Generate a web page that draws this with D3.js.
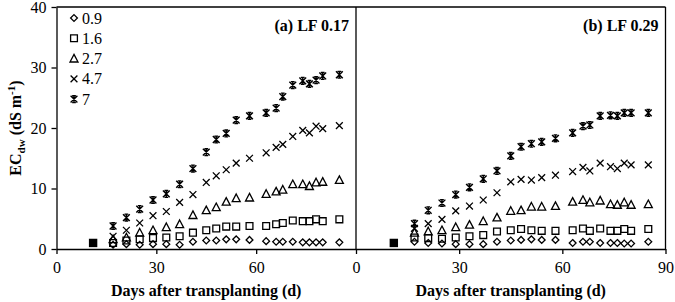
<!DOCTYPE html>
<html><head><meta charset="utf-8">
<script src="https://cdn.jsdelivr.net/npm/d3@7"></script>
<style>
body{margin:0;background:#fff;}
text{font-family:"Liberation Serif","Times New Roman",serif;fill:#000;}
</style></head>
<body><svg id="c" width="675" height="302"></svg>
<script>
// ---- data ----
const days = [17,21,25,29,33,37,41,45,48,51,54,58,63,66,68,71,74,76,78,80,85];
const initialDay = 11, initialEC = 1.0;
const seriesNames = ["0.9","1.6","2.7","4.7","7"];
const markers = ["diamond","square","triangle","cross","star"];
// Panel (a) LF 0.17
const a_09 = [0.7,0.8,0.7,0.8,0.8,0.7,1.2,1.4,1.4,1.6,1.6,1.5,1.3,1.2,1.2,1.2,1.1,1.1,1.1,1.1,1.1];
const a_16 = [1.0,1.4,1.6,1.8,1.9,2.1,2.7,3.1,3.4,3.7,3.7,3.8,3.8,4.1,4.3,4.7,4.6,4.6,4.9,4.6,4.9];
const a_27 = [1.6,1.9,2.7,3.1,3.6,4.1,5.6,6.4,6.9,7.8,8.4,8.5,9.1,9.5,9.8,10.7,10.7,10.4,11.0,11.1,11.4];
const a_47 = [2.1,3.1,4.3,5.5,6.2,7.7,9.0,11.0,12.1,13.1,14.2,15.0,15.9,16.8,17.3,18.6,19.6,19.2,20.3,19.9,20.4];
const a_7  = [3.8,5.2,6.6,8.1,9.1,10.7,13.3,16.0,18.1,19.1,21.3,22.0,22.5,23.3,25.2,27.1,27.8,27.3,27.9,28.6,28.8];
// Panel (b) LF 0.29
const b_09 = [1.2,1.0,0.9,0.8,0.8,0.8,1.2,1.4,1.5,1.6,1.5,1.5,1.0,1.2,1.2,1.0,1.0,1.0,0.9,0.9,1.2];
const b_16 = [1.9,1.8,1.7,1.9,2.1,2.3,2.9,3.1,3.3,3.1,3.0,3.0,3.1,3.4,3.0,3.4,3.0,3.0,3.3,3.0,3.3];
const b_27 = [2.7,2.9,3.1,3.6,4.0,4.6,5.2,6.3,6.4,7.0,7.0,7.1,7.8,8.1,7.7,8.0,7.4,7.3,7.7,7.3,7.4];
const b_47 = [3.4,4.2,4.9,6.3,7.1,8.1,9.3,11.1,11.5,11.4,11.8,12.2,12.8,13.5,12.9,14.2,13.6,13.3,14.2,13.9,13.9];
const b_7  = [4.2,6.4,7.6,9.0,10.2,11.6,12.9,15.4,16.9,17.4,17.7,18.3,19.2,20.3,20.5,22.0,22.1,22.0,22.5,22.5,22.5];
const xTicksA = [0,30,60];
const xTicksB = [0,30,60,90];
const yTicks = [0,10,20,30,40];
const panelLabels = ["(a) LF 0.17","(b) LF 0.29"];

// ---- drawing ----
const svg = d3.select("#c");
const y = d3.scaleLinear().domain([0,40]).range([249,7]);
const xa = d3.scaleLinear().domain([0,90]).range([56.5,356]);
const xb = d3.scaleLinear().domain([0,90]).range([356,665.5]);
const SW = 1.3;

function markerPath(type){
  const s = 3.4;
  switch(type){
    case "diamond": return `M0,${-s}L${s},0L0,${s}L${-s},0Z`;
    case "square": return `M${-s},${-s}H${s}V${s}H${-s}Z`;
    case "triangle": return `M0,${-s-0.8}L${s+0.6},${s}L${-s-0.6},${s}Z`;
    case "cross": return `M${-s},${-s}L${s},${s}M${-s},${s}L${s},${-s}`;
    case "star": { const h = s*0.55;
      return `M${-s},${-s}L${s},${s}M${-s},${s}L${s},${-s}M0,${-s}V${s}M${-h},${-s}H${h}M${-h},${s}H${h}`; }
  }
}
function drawMarker(g, type, px, py){
  g.append("path").attr("d", markerPath(type))
    .attr("transform", `translate(${px},${py})`)
    .attr("fill", "none").attr("stroke", "#000")
    .attr("stroke-width", type==="star"?1.4:SW);
}

function panel(x, data, ticks, label, withY){
  const g = svg.append("g");
  const ax = g.append("g").attr("transform", `translate(0,${y(0)})`)
    .call(d3.axisBottom(x).tickValues(ticks).tickSize(5).tickSizeOuter(0).tickFormat(d3.format("d")));
  ax.select(".domain").attr("stroke-width", SW);
  ax.selectAll(".tick line").attr("stroke-width", SW);
  ax.selectAll(".tick text").attr("y", 13).style("font-size","16px").style("font-family","Liberation Serif");
  if(withY){
    const ay = g.append("g").attr("transform", `translate(${x(0)},0)`)
      .call(d3.axisLeft(y).tickValues(yTicks).tickSize(5).tickSizeOuter(0));
    ay.select(".domain").attr("stroke-width", SW);
    ay.selectAll(".tick line").attr("stroke-width", SW);
    ay.selectAll(".tick text").attr("x", -10).style("font-size","16px").style("font-family","Liberation Serif");
  }
  g.append("text").attr("x", (x(0)+x(90))/2).attr("y", 296)
    .attr("text-anchor","middle").style("font-size","16px").style("font-weight","bold")
    .text("Days after transplanting (d)");
  g.append("text").attr("x", x(90)-7).attr("y", 31)
    .attr("text-anchor","end").style("font-size","16px").style("font-weight","bold")
    .text(label);
  data.forEach((vals, i) => {
    vals.forEach((v, j) => drawMarker(g, markers[i], x(days[j]), y(v)));
  });
  const s = 4.2;
  g.append("rect").attr("x", x(initialDay)-s).attr("y", y(initialEC)-s)
    .attr("width", 2*s).attr("height", 2*s).attr("fill", "#000");
}

panel(xa, [a_09,a_16,a_27,a_47,a_7], xTicksA, panelLabels[0], true);
panel(xb, [b_09,b_16,b_27,b_47,b_7], xTicksB, panelLabels[1], false);

const fr = svg.append("g").attr("stroke","#000").attr("stroke-width",SW).attr("fill","none");
fr.append("line").attr("x1", xa(0)).attr("x2", xb(90)).attr("y1", y(40)).attr("y2", y(40));
fr.append("line").attr("x1", xa(90)).attr("x2", xa(90)).attr("y1", y(40)).attr("y2", y(0));
fr.append("line").attr("x1", xb(90)).attr("x2", xb(90)).attr("y1", y(40)).attr("y2", y(0));

const yt = svg.append("text").attr("transform", "translate(21,128) rotate(-90)")
  .attr("text-anchor","middle").style("font-size","16px").style("font-weight","bold");
yt.append("tspan").text("EC");
yt.append("tspan").attr("dy", 4).style("font-size","11px").text("dw");
yt.append("tspan").attr("dy", -4).text(" (dS m");
yt.append("tspan").attr("dy", -6).style("font-size","11px").text("-1");
yt.append("tspan").attr("dy", 6).text(")");

const lg = svg.append("g");
seriesNames.forEach((n, i) => {
  const ly = 18 + i*20.3;
  drawMarker(lg, markers[i], 74, ly);
  lg.append("text").attr("x", 82).attr("y", ly + 5.5).style("font-size","16px").text(n);
});
</script></body></html>
